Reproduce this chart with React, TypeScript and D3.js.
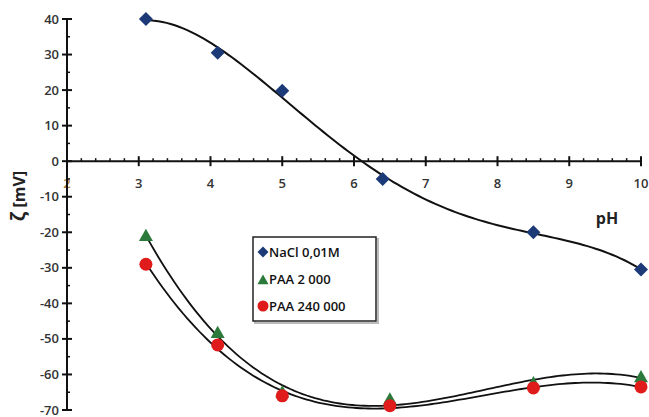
import React from "react";
import * as d3 from "d3";

const phNaCl = [3.1, 4.1, 5.0, 6.4, 8.5, 10.0];
const zetaNaCl = [40, 30.5, 19.8, -5, -20, -30.5];
const phPAA = [3.1, 4.1, 5.0, 6.5, 8.5, 10.0];
const zetaPAA2000 = [-21, -48.3, -65, -67, -62.4, -60.7];
const zetaPAA240000 = [-29, -51.7, -66, -68.8, -63.8, -63.5];
const xTicks = [2, 3, 4, 5, 6, 7, 8, 9, 10];
const yTicks = [40, 30, 20, 10, 0, -10, -20, -30, -40, -50, -60, -70];
const legendLabels = ["NaCl 0,01M", "PAA 2 000", "PAA 240 000"];

const W = 649;
const H = 417;

// least-squares polynomial trendline (like a spreadsheet trendline)
function polyfit(xs: number[], ys: number[], deg: number, c0: number) {
  const n = deg + 1;
  const A: number[][] = Array.from({ length: n }, () => new Array(n + 1).fill(0));
  xs.forEach((xv, k) => {
    const t = xv - c0;
    for (let i = 0; i < n; i++) {
      for (let j = 0; j < n; j++) A[i][j] += Math.pow(t, i + j);
      A[i][n] += Math.pow(t, i) * ys[k];
    }
  });
  for (let i = 0; i < n; i++) {
    let p = i;
    for (let r = i + 1; r < n; r++) if (Math.abs(A[r][i]) > Math.abs(A[p][i])) p = r;
    [A[i], A[p]] = [A[p], A[i]];
    for (let r = 0; r < n; r++) {
      if (r === i) continue;
      const f = A[r][i] / A[i][i];
      for (let c = i; c <= n; c++) A[r][c] -= f * A[i][c];
    }
  }
  const coef = A.map((row, i) => row[n] / row[i]);
  return (xv: number) => coef.reduce((s, c, i) => s + c * Math.pow(xv - c0, i), 0);
}

export default function App() {
  const x = d3.scaleLinear().domain([2, 10]).range([67, 641]);
  const y = d3.scaleLinear().domain([-70, 40]).range([410, 19]);
  const y0 = y(0);
  const font = "'Open Sans', 'Liberation Sans', sans-serif";

  const toPts = (xs: number[], ys: number[]) => xs.map((v, i) => [v, ys[i]] as [number, number]);
  const line = d3.line<[number, number]>().x(d => x(d[0])).y(d => y(d[1])).curve(d3.curveLinear);

  const naclPts = toPts(phNaCl, zetaNaCl);
  const p2Pts = toPts(phPAA, zetaPAA2000);
  const p240Pts = toPts(phPAA, zetaPAA240000);

  const trend = (xs: number[], ys: number[], deg: number) => {
    const f = polyfit(xs, ys, deg, 6.5);
    const lo = xs[0], hi = xs[xs.length - 1];
    const n = 120;
    return d3.range(n + 1).map(i => {
      const xv = lo + ((hi - lo) * i) / n;
      return [xv, f(xv)] as [number, number];
    });
  };

  const naclTrend = trend(phNaCl, zetaNaCl, 4);
  const p2Trend = trend(phPAA, zetaPAA2000, 3);
  const p240Trend = trend(phPAA, zetaPAA240000, 3);

  const minorX = d3.range(2, 10.001, 0.2).filter(v => Math.abs(v - Math.round(v)) > 0.01);
  const minorY = d3.range(-65, 40, 10);

  const diamond = (cx: number, cy: number, r = 7) => `M${cx},${cy - r}L${cx + r},${cy}L${cx},${cy + r}L${cx - r},${cy}Z`;
  const triangle = (cx: number, cy: number, s = 7) => `M${cx},${cy - s}L${cx + s},${cy + s * 0.75}L${cx - s},${cy + s * 0.75}Z`;

  const navy = "#1d3a78";
  const green = "#2b7a3b";
  const red = "#e01b1b";

  return (
    <svg width={W} height={H} style={{ position: "absolute", left: 0, top: 0, background: "#fff" }}>
      <text x={x(2)} y={y0 + 27} textAnchor="middle" fontFamily={font} fontWeight={600} fontSize={13} fill="#b08040">2</text>
      {/* x axis */}
      <line x1={x(2)} x2={x(10)} y1={y0} y2={y0} stroke="#111" strokeWidth={2} />
      {minorX.map((v, i) => (
        <line key={"mx" + i} x1={x(v)} x2={x(v)} y1={y0 - 3} y2={y0} stroke="#111" strokeWidth={1.5} />
      ))}
      {xTicks.map(v => (
        <g key={"xt" + v}>
          <line x1={x(v)} x2={x(v)} y1={y0 - 5} y2={y0 + 5} stroke="#111" strokeWidth={2} />
          {v !== 2 && (
            <text x={x(v)} y={y0 + 27} textAnchor="middle" fontFamily={font} fontWeight={600} fontSize={13} fill="#333">{v}</text>
          )}
        </g>
      ))}
      {/* y axis */}
      <line x1={x(2)} x2={x(2)} y1={y(40)} y2={y(-70)} stroke="#111" strokeWidth={2} />
      {minorY.map((v, i) => (
        <line key={"my" + i} x1={x(2)} x2={x(2) + 3} y1={y(v)} y2={y(v)} stroke="#111" strokeWidth={1.5} />
      ))}
      {yTicks.map(v => (
        <g key={"yt" + v}>
          <line x1={x(2) - 5} x2={x(2) + 5} y1={y(v)} y2={y(v)} stroke="#111" strokeWidth={2} />
          <text x={59} y={y(v) + 4.5} textAnchor="end" fontFamily={font} fontWeight={600} fontSize={13} fill="#333">{v}</text>
        </g>
      ))}
      {/* axis titles */}
      <text x={607} y={224} textAnchor="middle" fontFamily={font} fontWeight={700} fontSize={16} fill="#222">pH</text>
      <text transform={`translate(25,196) rotate(-90)`} textAnchor="middle" fontFamily={font} fontWeight={700} fontSize={16} fill="#222">
        <tspan fontSize={19}>ζ</tspan> [mV]
      </text>

      {/* trendlines */}
      <path d={line(naclTrend) || ""} fill="none" stroke="#111" strokeWidth={2} />
      <path d={line(p2Trend) || ""} fill="none" stroke="#111" strokeWidth={1.8} />
      <path d={line(p240Trend) || ""} fill="none" stroke="#111" strokeWidth={1.8} />

      {/* markers */}
      {naclPts.map((d, i) => (
        <path key={"n" + i} d={diamond(x(d[0]), y(d[1]))} fill={navy} />
      ))}
      {p2Pts.map((d, i) => (
        <path key={"t" + i} d={triangle(x(d[0]), y(d[1]))} fill={green} />
      ))}
      {p240Pts.map((d, i) => (
        <circle key={"c" + i} cx={x(d[0])} cy={y(d[1])} r={6.5} fill={red} />
      ))}

      {/* legend */}
      <rect x={254} y={238} width={123} height={84} fill="none" stroke="#bbb" strokeWidth={2} transform="translate(1,1)" />
      <rect x={253} y={237} width={123} height={84} fill="#fff" stroke="#222" strokeWidth={1.5} />
      {legendLabels.map((lab, i) => {
        const ly = 252 + i * 27;
        const mx = 263;
        return (
          <g key={"lg" + i}>
            {i === 0 && <path d={diamond(mx, ly, 5.5)} fill={navy} />}
            {i === 1 && <path d={triangle(mx, ly + 1, 5.5)} fill={green} />}
            {i === 2 && <circle cx={mx} cy={ly} r={5.5} fill={red} />}
            <text x={269} y={ly + 5} fontFamily={font} fontWeight={600} fontSize={13} fill="#111">{lab}</text>
          </g>
        );
      })}
    </svg>
  );
}
